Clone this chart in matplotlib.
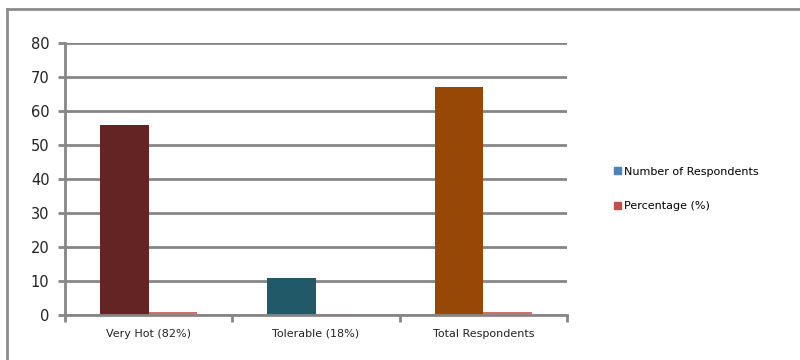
import numpy as np
from matplotlib import pyplot as plt
from matplotlib.lines import Line2D
from matplotlib.patches import Patch

categories = ['Very Hot (82%)', 'Tolerable (18%)', 'Total Respondents']
respondents = [56, 11, 67]
percentage = [0.82, 0.18, 1.0]
series_names = ['Number of Respondents', 'Percentage (%)']
yticks = [0, 10, 20, 30, 40, 50, 60, 70, 80]

point_colors = ['#632523', '#215968', '#974806']
pct_color = '#D0716E'
grid_color = '#868686'

fig = plt.figure(figsize=(8, 3.6), dpi=100)
ax = fig.add_axes([0.081, 0.125, 0.628, 0.7556])

x = np.arange(len(categories))
w = 0.29
ax.bar(x - w / 2, respondents, width=w, color=point_colors, zorder=2)
ax.bar(x + w / 2, percentage, width=w, color=pct_color, zorder=2)

ax.set_xlim(-0.5, len(categories) - 0.5)
ax.set_ylim(0, 80)
ax.set_yticks(yticks)
ax.set_yticklabels([str(t) for t in yticks], fontsize=10.5, color='#222222')
ax.yaxis.grid(True, color=grid_color, linewidth=2, zorder=0)
ax.set_axisbelow(True)
ax.tick_params(axis='y', length=5, width=2, color=grid_color, pad=6)

ax.set_xticks(x)
ax.set_xticklabels(categories, fontsize=8, color='#222222')
ax.tick_params(axis='x', length=0, pad=10)
ax.set_xticks(np.arange(len(categories) + 1) - 0.5, minor=True)
ax.tick_params(axis='x', which='minor', length=5, width=2, color=grid_color)

for side in ['top', 'right']:
    ax.spines[side].set_visible(False)
for side in ['left', 'bottom']:
    ax.spines[side].set_color(grid_color)
    ax.spines[side].set_linewidth(2)
    ax.spines[side].set_zorder(3)

handles = [Patch(color='#4F81BD'), Patch(color='#C0504D')]
fig.legend(handles, series_names, loc='upper left', bbox_to_anchor=(0.755, 0.565),
           frameon=False, fontsize=8, handlelength=0.6, handleheight=0.6,
           handletextpad=0.3, labelspacing=2.2)

# outer chart frame
fig.add_artist(Line2D([0.009, 1.0], [0.975, 0.975], color='#8c8c8c', linewidth=2))
fig.add_artist(Line2D([0.009, 0.009], [0.0, 0.975], color='#8c8c8c', linewidth=2))

plt.savefig('out.png', dpi=100)
